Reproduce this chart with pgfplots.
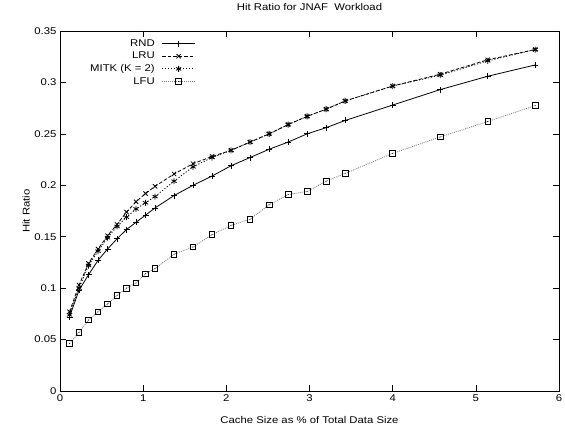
\documentclass[border=0pt]{standalone}
\usepackage{fontspec}
\setmainfont[FakeStretch=1.16]{Liberation Sans}
\usepackage{pgfplots}
\pgfplotsset{compat=1.18}

% gnuplot-like open square with a dot in the middle
\pgfdeclareplotmark{sqdot}{%
  \pgfpathrectangle{\pgfqpoint{-\pgfplotmarksize}{-\pgfplotmarksize}}{\pgfqpoint{2\pgfplotmarksize}{2\pgfplotmarksize}}%
  \pgfusepathqstroke
  \pgfpathcircle{\pgfpointorigin}{0.5pt}%
  \pgfusepathqfill}

\pgfplotstableread{
x      rnd    lru    mitk   lfu
0.1143 0.072  0.077  0.074  0.046
0.2286 0.098  0.103  0.100  0.057
0.3429 0.113  0.124  0.122  0.069
0.4571 0.127  0.138  0.136  0.077
0.5714 0.138  0.151  0.149  0.0846
0.6857 0.148  0.162  0.160  0.093
0.8000 0.157  0.174  0.169  0.100
0.9143 0.164  0.184  0.177  0.105
1.0286 0.171  0.192  0.183  0.114
1.1429 0.178  0.199  0.189  0.119
1.3714 0.190  0.211  0.204  0.133
1.6000 0.200  0.221  0.218  0.140
1.8286 0.209  0.228  0.227  0.152
2.0571 0.219  0.234  0.234  0.161
2.2857 0.227  0.242  0.242  0.167
2.5143 0.235  0.250  0.250  0.181
2.7429 0.242  0.259  0.259  0.191
2.9714 0.250  0.267  0.267  0.194
3.2000 0.256  0.274  0.274  0.204
3.4286 0.263  0.282  0.282  0.2115
4.0000 0.278  0.2965 0.2965 0.231
4.5714 0.293  0.308  0.307  0.247
5.1429 0.306  0.322  0.321  0.262
5.7143 0.317  0.332  0.332  0.2775
}\hitdata

\begin{document}
\begin{tikzpicture}
\useasboundingbox (0,0) rectangle (565bp,432bp);
\begin{axis}[
  at={(60bp,41bp)}, anchor=south west,
  scale only axis,
  width=499bp, height=360bp,
  xmin=0, xmax=6, ymin=0, ymax=0.35,
  xtick={0,1,2,3,4,5,6},
  ytick={0,0.05,0.1,0.15,0.2,0.25,0.3,0.35},
  scaled y ticks=false,
  yticklabel style={/pgf/number format/fixed,/pgf/number format/precision=2},
  /pgf/number format/assume math mode=true,
  tick align=inside,
  major tick length=6bp,
  tick style={line width=0.6pt,black},
  axis line style={line width=0.7pt},
  every tick label/.style={font=\fontsize{9.8}{12}\selectfont},
  label style={font=\fontsize{9.8}{12}\selectfont},
  title style={font=\fontsize{9.8}{12}\selectfont},
  title={Hit Ratio for JNAF\ \ Workload},
  title style={at={(axis description cs:0.5,1.05)},anchor=center},
  xlabel={Cache Size as \% of Total Data Size},
  xlabel style={at={(axis description cs:0.5,-0.08)},anchor=center},
  ylabel={Hit Ratio},
  ylabel style={at={(axis description cs:-0.068,0.5)},anchor=center},
  legend style={
    draw=none, fill=none,
    font=\fontsize{9.8}{12}\selectfont,
    at={(axis description cs:0.274,0.985)}, anchor=north east,
    legend cell align=right,
    row sep=0.3pt,
    inner sep=1pt
  },
  legend plot pos=right,
  legend image code/.code={%
    \path (0bp,0bp);
    \draw[mark repeat=2,mark phase=2,#1] plot coordinates {(5bp,0bp)(21.5bp,0bp)(38bp,0bp)};},
]
\addplot[black, line width=0.8pt, mark=+, mark size=3bp, mark options={solid}]
  table[x=x,y=rnd] {\hitdata};
\addlegendentry{RND}
\addplot[black, line width=0.8pt, dash pattern=on 3.5bp off 2bp, mark=x, mark size=3bp, mark options={solid}]
  table[x=x,y=lru] {\hitdata};
\addlegendentry{LRU}
\addplot[black, line width=0.8pt, dash pattern=on 1.2bp off 1.8bp, mark=asterisk, mark size=3bp, mark options={solid}]
  table[x=x,y=mitk] {\hitdata};
\addlegendentry{MITK (K = 2)}
\addplot[gray, line width=0.8pt, dash pattern=on 1bp off 1bp, mark=sqdot, mark size=2.8bp, mark options={solid,black,line width=0.8pt}]
  table[x=x,y=lfu] {\hitdata};
\addlegendentry{LFU}
\end{axis}
\end{tikzpicture}
\end{document}
